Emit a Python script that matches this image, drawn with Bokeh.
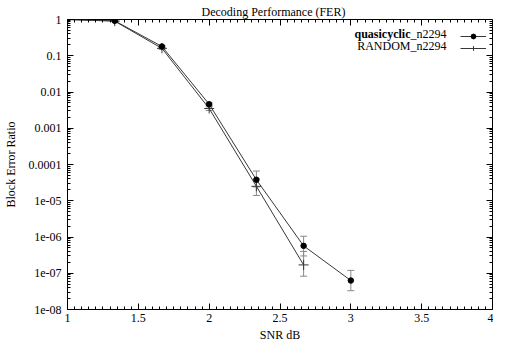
import numpy as np
from bokeh.plotting import figure
from bokeh.models import (Whisker, ColumnDataSource, FixedTicker, LogAxis, LinearAxis,
                          Range1d, Label, Legend, LegendItem, TeeHead, CustomJSTickFormatter)
from bokeh.embed import file_html
from bokeh.resources import INLINE

# ---- data ----
snr_qc = [1.0, 1.3333, 1.6667, 2.0, 2.3333, 2.6667, 3.0]
fer_qc = [1.0, 0.92, 0.18, 0.0046, 3.8e-5, 5.7e-7, 6.3e-8]
fer_qc_lo = [1.0, 0.90, 0.17, 0.0042, 2.4e-5, 3.0e-7, 3.3e-8]
fer_qc_hi = [1.0, 0.94, 0.19, 0.0050, 6.6e-5, 1.05e-6, 1.2e-7]

snr_rnd = [1.0, 1.3333, 1.6667, 2.0, 2.3333, 2.6667]
fer_rnd = [1.0, 0.90, 0.16, 0.0035, 2.5e-5, 1.7e-7]
fer_rnd_lo = [1.0, 0.88, 0.15, 0.0031, 1.4e-5, 8.3e-8]
fer_rnd_hi = [1.0, 0.92, 0.17, 0.0039, 4.0e-5, 4.0e-7]

x_ticks = [1.0, 1.5, 2.0, 2.5, 3.0, 3.5, 4.0]
y_ticks = [1e-8, 1e-7, 1e-6, 1e-5, 1e-4, 1e-3, 1e-2, 1e-1, 1.0]
y_labels = ["1e-08", "1e-07", "1e-06", "1e-05", "0.0001", "0.001", "0.01", "0.1", "1"]

title_text = "Decoding Performance (FER)"
x_label = "SNR dB"
y_label = "Block Error Ratio"
name_qc_bold = "quasicyclic"
name_qc_rest = "_n2294"
name_rnd = "RANDOM_n2294"

FONT = "Liberation Serif"
FS = "12px"
LINE = "#383838"
ERR = "#888888"

x_minor = list(np.arange(1.0, 4.0001, 0.05))
y_minor = [m * 10.0 ** k for k in range(-8, 0) for m in range(2, 10)]

W_EST = 434   # expected frame width (px)
H_EST = 285   # expected frame height (px)

p = figure(width=493, height=344, y_axis_type="log",
           x_range=Range1d(1, 4), y_range=Range1d(1e-8, 1),
           output_backend="svg", toolbar_location=None,
           min_border_left=58, min_border_right=1, min_border_top=19, min_border_bottom=34)
p.background_fill_color = "white"
p.border_fill_color = "white"
p.outline_line_color = "black"
p.xgrid.visible = False
p.ygrid.visible = False

p.title.text = title_text
p.title.align = "left"
p.title.offset = 134
p.title.text_font = FONT
p.title.text_font_size = FS
p.title.text_font_style = "normal"
p.title.text_color = "black"
p.title.standoff = 2

src_qc = ColumnDataSource(dict(x=snr_qc, y=fer_qc, lo=fer_qc_lo, hi=fer_qc_hi))
src_rnd = ColumnDataSource(dict(x=snr_rnd, y=fer_rnd, lo=fer_rnd_lo, hi=fer_rnd_hi))

for src in (src_qc, src_rnd):
    p.add_layout(Whisker(base="x", upper="hi", lower="lo", source=src, dimension="height",
                         line_color=ERR, line_width=1,
                         upper_head=TeeHead(size=7, line_color=ERR, line_width=1),
                         lower_head=TeeHead(size=7, line_color=ERR, line_width=1)))

l_rnd = p.line("x", "y", source=src_rnd, line_color=LINE, line_width=1)
m_rnd = p.scatter("x", "y", source=src_rnd, marker="cross", size=10, line_color=LINE, line_width=1)
l_qc = p.line("x", "y", source=src_qc, line_color=LINE, line_width=1)
m_qc = p.scatter("x", "y", source=src_qc, marker="circle", size=5.5, fill_color="black", line_color="black")

yfmt = CustomJSTickFormatter(args=dict(vals=y_ticks, labels=y_labels), code="""
let best = 0, bd = Infinity;
for (let i = 0; i < vals.length; i++) {
  const d = Math.abs(Math.log10(vals[i]) - Math.log10(tick));
  if (d < bd) { bd = d; best = i; }
}
return labels[best];
""")
xfmt = CustomJSTickFormatter(code="return String(Math.round(tick*100)/100);")
blank = CustomJSTickFormatter(code="return '';")

def style_axis(ax):
    ax.axis_line_color = "black"
    ax.major_tick_in = 6
    ax.major_tick_out = 0
    ax.minor_tick_in = 3
    ax.minor_tick_out = 0
    ax.major_tick_line_color = "black"
    ax.minor_tick_line_color = "black"
    ax.major_label_text_font = FONT
    ax.major_label_text_font_size = FS
    ax.major_label_text_color = "black"
    ax.axis_label_text_font = FONT
    ax.axis_label_text_font_size = FS
    ax.axis_label_text_font_style = "normal"
    ax.axis_label_text_color = "black"

xa = p.xaxis[0]
xa.ticker = FixedTicker(ticks=x_ticks, minor_ticks=x_minor)
xa.formatter = xfmt
xa.axis_label = x_label
style_axis(xa)
xa.major_label_standoff = 4
xa.axis_label_standoff = 3

ya = p.yaxis[0]
ya.ticker = FixedTicker(ticks=y_ticks, minor_ticks=y_minor)
ya.formatter = yfmt
ya.axis_label = y_label
style_axis(ya)
ya.major_label_standoff = 6
ya.axis_label_standoff = 8

# mirrored tick marks along the top and right edges, drawn inside the frame
top = LinearAxis(ticker=FixedTicker(ticks=x_ticks, minor_ticks=x_minor), formatter=blank,
                 fixed_location=1.0)
style_axis(top)
top.major_tick_in = 0
top.major_tick_out = 6
top.minor_tick_in = 0
top.minor_tick_out = 3
top.major_label_text_font_size = "1px"
p.add_layout(top, "below")

right = LogAxis(ticker=FixedTicker(ticks=y_ticks, minor_ticks=y_minor), formatter=blank,
                fixed_location=4.0)
style_axis(right)
right.major_tick_in = 0
right.major_tick_out = 6
right.minor_tick_in = 0
right.minor_tick_out = 3
right.major_label_text_font_size = "1px"
p.add_layout(right, "left")

legend = Legend(items=[LegendItem(label=" ", renderers=[l_qc, m_qc]),
                       LegendItem(label=" ", renderers=[l_rnd, m_rnd])],
                location=(W_EST - 41, H_EST - 30), orientation="vertical",
                glyph_width=26, glyph_height=12, label_width=0, label_height=12,
                label_standoff=0, padding=0, spacing=0, margin=0,
                border_line_color=None, background_fill_alpha=0,
                label_text_font=FONT, label_text_font_size=FS)
p.add_layout(legend)

lab_kw = dict(x_units="screen", y_units="screen", text_font=FONT, text_font_size=FS,
              text_color="black", text_baseline="middle")
p.add_layout(Label(x=W_EST - 55, y=H_EST - 9, text=name_qc_rest, text_align="right", **lab_kw))
p.add_layout(Label(x=W_EST - 91, y=H_EST - 9, text=name_qc_bold, text_align="right",
                   text_font_style="bold", **lab_kw))
p.add_layout(Label(x=W_EST - 55, y=H_EST - 21, text=name_rnd, text_align="right", **lab_kw))

open("out.html", "w").write(file_html(p, INLINE))
